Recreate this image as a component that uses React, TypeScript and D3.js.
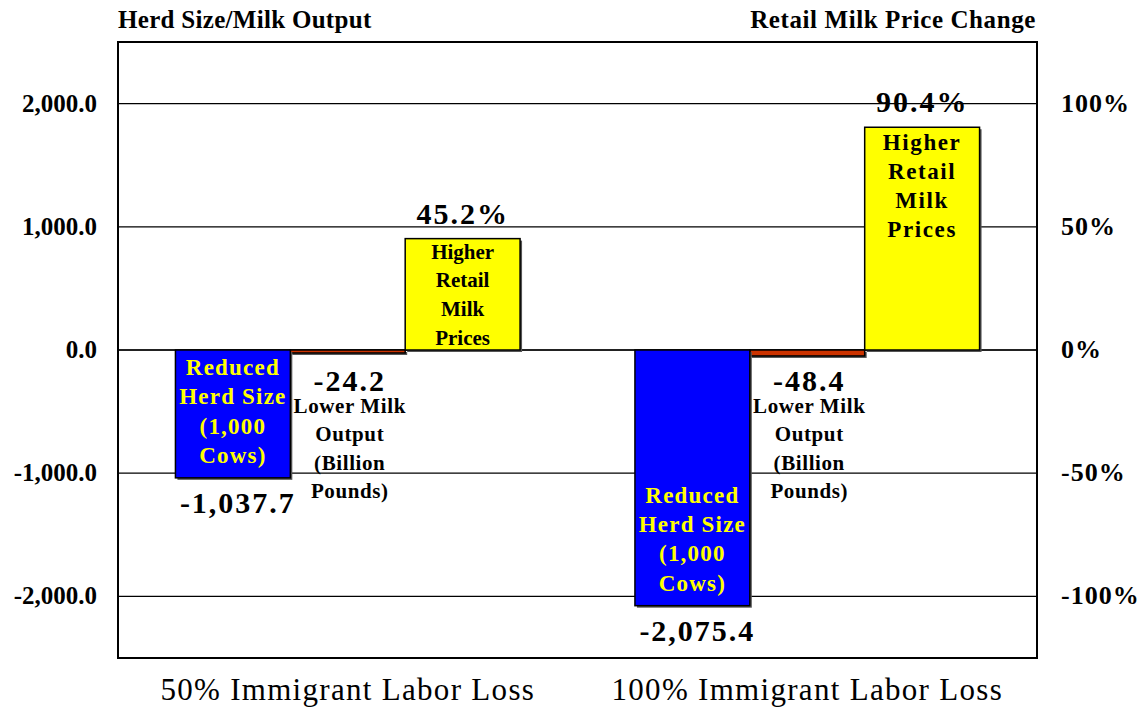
import React from "react";
import * as d3 from "d3";

// data
const groups = ["50% Immigrant Labor Loss", "100% Immigrant Labor Loss"];
const herdSize = [-1037.7, -2075.4]; // 1,000 cows
const milkOutput = [-24.2, -48.4]; // billion pounds
const retailPriceChange = [45.2, 90.4]; // percent
const leftTicks = [-2000, -1000, 0, 1000, 2000];
const rightTicks = [-100, -50, 0, 50, 100];
const herdText = ["Reduced", "Herd Size", "(1,000", "Cows)"];
const milkText = ["Lower Milk", "Output", "(Billion", "Pounds)"];
const priceText = ["Higher", "Retail", "Milk", "Prices"];
const series = ["herd", "milk", "price"];

const W = 1144,
  H = 711;
const margin = { top: 42, right: 107, bottom: 53, left: 118 };
const FONT = "'Liberation Serif', 'Times New Roman', serif";

// d3 uses a unicode minus, the original uses a plain hyphen
const fmtLeft = (v: number) => d3.format(",.1f")(v).replace("\u2212", "-");

export default function App() {
  const x0 = d3
    .scaleBand()
    .domain(groups)
    .range([margin.left, W - margin.right])
    .paddingInner(0.25)
    .paddingOuter(0.125);
  const x1 = d3.scaleBand().domain(series).range([0, x0.bandwidth()]);
  const y = d3
    .scaleLinear()
    .domain([-2500, 2500])
    .range([H - margin.bottom, margin.top]);
  const yR = d3
    .scaleLinear()
    .domain([-125, 125])
    .range([H - margin.bottom, margin.top]);

  const bw = x1.bandwidth();
  const y0 = y(0);

  const bar = (x: number, v0: number, v1: number, fill: string, key: string) => {
    const top = Math.min(v0, v1);
    const h = Math.max(Math.abs(v1 - v0), 1);
    return (
      <g key={key}>
        <rect x={x + 2} y={top + 2} width={bw} height={h} fill="#555" />
        <rect x={x} y={top} width={bw} height={h} fill={fill} stroke="#000" strokeWidth={1.5} />
      </g>
    );
  };

  return (
    <svg
      width={W}
      height={H}
      style={{ position: "absolute", left: 0, top: 0, background: "#fff" }}
      fontFamily={FONT}
    >
      {/* titles */}
      <text x={margin.left} y={28} fontSize={25} fontWeight="bold" letterSpacing={0.3}>
        Herd Size/Milk Output
      </text>
      <text x={1036} y={28} fontSize={25} fontWeight="bold" textAnchor="end" letterSpacing={0.6}>
        Retail Milk Price Change
      </text>

      {/* gridlines */}
      {leftTicks.map((t) => (
        <line
          key={t}
          x1={margin.left}
          x2={W - margin.right}
          y1={y(t)}
          y2={y(t)}
          stroke={t === 0 ? "#222" : "#000"}
          strokeWidth={t === 0 ? 2 : 1.2}
        />
      ))}

      {/* bars */}
      {groups.map((g, i) => {
        const gx = x0(g)!;
        const xh = gx + x1("herd")!;
        const xm = gx + x1("milk")!;
        const xp = gx + x1("price")!;
        const herdBottom = y(herdSize[i]);
        const priceTop = yR(retailPriceChange[i]);
        return (
          <g key={g}>
            {bar(xm, y0, y(milkOutput[i]), "#cc3300", "m")}
            {bar(xh, y0, herdBottom, "#0000ff", "h")}
            {bar(xp, y0, priceTop, "#ffff00", "p")}

            {/* herd labels */}
            {herdText.map((t, j) => (
              <text
                key={t}
                x={xh + bw / 2}
                y={herdBottom - 15 - (herdText.length - 1 - j) * 29.3}
                textAnchor="middle"
                fontSize={23}
                fontWeight="bold"
                fill="#ffff00"
                letterSpacing={1.2}
              >
                {t}
              </text>
            ))}
            <text
              x={xh + bw / 2 + 5}
              y={herdBottom + 35}
              textAnchor="middle"
              fontSize={30}
              fontWeight="bold"
              letterSpacing={2}
            >
              {fmtLeft(herdSize[i])}
            </text>

            {/* milk labels */}
            <text
              x={xm + bw / 2 + 2}
              y={y0 + 41}
              textAnchor="middle"
              fontSize={30}
              fontWeight="bold"
              letterSpacing={2}
            >
              {fmtLeft(milkOutput[i])}
            </text>
            {milkText.map((t, j) => (
              <text
                key={t}
                x={xm + bw / 2 + 2}
                y={y0 + 63 + j * 28.3}
                textAnchor="middle"
                fontSize={21}
                fontWeight="bold"
                letterSpacing={0.6}
              >
                {t}
              </text>
            ))}

            {/* price labels */}
            {priceText.map((t, j) => (
              <text
                key={t}
                x={xp + bw / 2}
                y={priceTop + 20 + i * 3 + j * 28.8}
                textAnchor="middle"
                fontSize={21 + 2 * i}
                fontWeight="bold"
                letterSpacing={i ? 1.6 : 0}
              >
                {t}
              </text>
            ))}
            <text
              x={xp + bw / 2}
              y={priceTop - 15}
              textAnchor="middle"
              fontSize={30}
              fontWeight="bold"
              letterSpacing={2}
            >
              {retailPriceChange[i].toFixed(1)}%
            </text>

            {/* category label */}
            <text
              x={gx + x0.bandwidth() / 2}
              y={700}
              textAnchor="middle"
              fontSize={31}
              letterSpacing={1.3}
            >
              {g}
            </text>
          </g>
        );
      })}

      {/* plot frame */}
      <rect
        x={margin.left}
        y={margin.top}
        width={W - margin.left - margin.right}
        height={H - margin.top - margin.bottom}
        fill="none"
        stroke="#000"
        strokeWidth={2}
      />

      {/* left axis labels */}
      {leftTicks.map((t) => (
        <text
          key={t}
          x={97}
          y={y(t) + 8}
          textAnchor="end"
          fontSize={25}
          fontWeight="bold"
        >
          {fmtLeft(t)}
        </text>
      ))}
      {/* right axis labels */}
      {rightTicks.map((t) => (
        <text
          key={t}
          x={1061}
          y={yR(t) + 8}
          fontSize={26}
          fontWeight="bold"
          letterSpacing={1}
        >
          {t}%
        </text>
      ))}
    </svg>
  );
}
